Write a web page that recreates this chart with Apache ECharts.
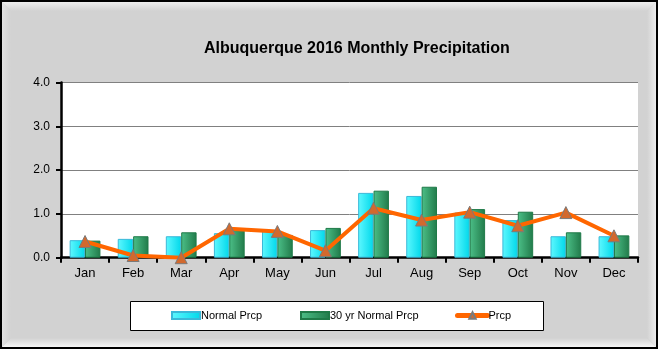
<!DOCTYPE html>
<html><head><meta charset="utf-8">
<script src="https://cdn.jsdelivr.net/npm/echarts@6/dist/echarts.min.js"></script>
<style>html,body{margin:0;padding:0;background:#fff}#c{width:658px;height:349px}</style>
</head><body><div id="c"></div>
<script>
const months = ['Jan','Feb','Mar','Apr','May','Jun','Jul','Aug','Sep','Oct','Nov','Dec'];
const normalPrcp = [0.40,0.43,0.49,0.56,0.61,0.63,1.48,1.41,1.03,0.86,0.49,0.49];
const normal30yr = [0.39,0.49,0.58,0.63,0.52,0.68,1.53,1.62,1.11,1.05,0.58,0.51];
const prcp2016 = [0.37,0.05,0.00,0.66,0.60,0.16,1.13,0.86,1.04,0.73,1.03,0.50];
const yTicks = [0,1,2,3,4];

const W = 658, H = 349, B = 11, G = '#d2d2d2';
const lg = (x1,y1,x2,y2,a,b)=>new echarts.graphic.LinearGradient(x1,y1,x2,y2,[{offset:0,color:a},{offset:1,color:b}]);
const legText = {fontFamily:'Liberation Sans, Arial',fontSize:11,color:'#000',padding:[0,0,0,-4]};
const chart = echarts.init(document.getElementById('c'), null, {renderer:'canvas'});
chart.setOption({
  animation:false,
  backgroundColor:G,
  graphic:[
    {type:'polygon',z:-10,shape:{points:[[0,0],[W,0],[W-B,B],[B,B]]},style:{fill:lg(0,0,0,1,'#f4f4f4',G)}},
    {type:'polygon',z:-10,shape:{points:[[0,H],[W,H],[W-B,H-B],[B,H-B]]},style:{fill:lg(0,1,0,0,'#ffffff',G)}},
    {type:'polygon',z:-10,shape:{points:[[0,0],[B,B],[B,H-B],[0,H]]},style:{fill:lg(0,0,1,0,'#e6e6e6',G)}},
    {type:'polygon',z:-10,shape:{points:[[W,0],[W-B,B],[W-B,H-B],[W,H]]},style:{fill:lg(1,0,0,0,'#f2f2f2',G)}},
    {type:'rect',z:100,shape:{x:1,y:1,width:W-2,height:H-2},style:{fill:null,stroke:'#000',lineWidth:2}},
    {type:'rect',z:-5,shape:{x:130.5,y:301.5,width:413,height:29},style:{fill:'#fff',stroke:'#000',lineWidth:1}}
  ],
  title:{text:'Albuquerque 2016 Monthly Precipitation',left:199,top:36,
    textStyle:{fontFamily:'Liberation Sans, Arial',fontSize:16,fontWeight:'bold',color:'#000'}},
  legend:[
    {data:[{name:'Normal Prcp',icon:'rect'}],left:171,top:310,padding:0,itemWidth:28,itemHeight:7,itemGap:0,textStyle:legText},
    {data:[{name:'30 yr Normal Prcp',icon:'rect'}],left:300,top:310,padding:0,itemWidth:28,itemHeight:7,itemGap:0,textStyle:legText},
    {data:['Prcp'],left:455,top:310,padding:0,itemWidth:30,itemHeight:8,itemGap:0,textStyle:legText,
      lineStyle:{width:5,cap:'round'}}
  ],
  grid:{left:61,right:20,top:82.5,bottom:91.3,show:true,backgroundColor:'#fff',borderWidth:0},
  xAxis:{type:'category',data:months,
    axisLine:{lineStyle:{color:'#000',width:2.5}},
    axisTick:{show:true,length:5,lineStyle:{color:'#000',width:2}},
    axisLabel:{fontFamily:'Liberation Sans, Arial',fontSize:13,color:'#000',margin:9}},
  yAxis:{type:'value',min:yTicks[0],max:yTicks[yTicks.length-1],interval:1,
    axisLine:{show:true,lineStyle:{color:'#000',width:2.5}},
    axisTick:{show:true,length:5,lineStyle:{color:'#000',width:2}},
    splitLine:{lineStyle:{color:'#808080',width:1}},
    axisLabel:{fontFamily:'Liberation Sans, Arial',fontSize:12,color:'#000',margin:11,formatter:v=>v.toFixed(1)}},
  series:[
    {name:'Normal Prcp',type:'bar',data:normalPrcp,barGap:'0%',barCategoryGap:'36%',
      itemStyle:{color:lg(0,0,1,0,'#5ff8ff','#00d8ea'),borderColor:'#3ab8d8',borderWidth:1}},
    {name:'30 yr Normal Prcp',type:'bar',data:normal30yr,
      itemStyle:{color:lg(0,0,1,0,'#4cc088','#217a4a'),borderColor:'#1f7a48',borderWidth:1}},
    {name:'Prcp',type:'line',data:prcp2016,symbol:'triangle',symbolSize:12,
      lineStyle:{color:'#ff6600',width:4},
      itemStyle:{color:'#d2692e',borderColor:'#7a7a7a',borderWidth:1},z:5}
  ]
});
</script></body></html>
